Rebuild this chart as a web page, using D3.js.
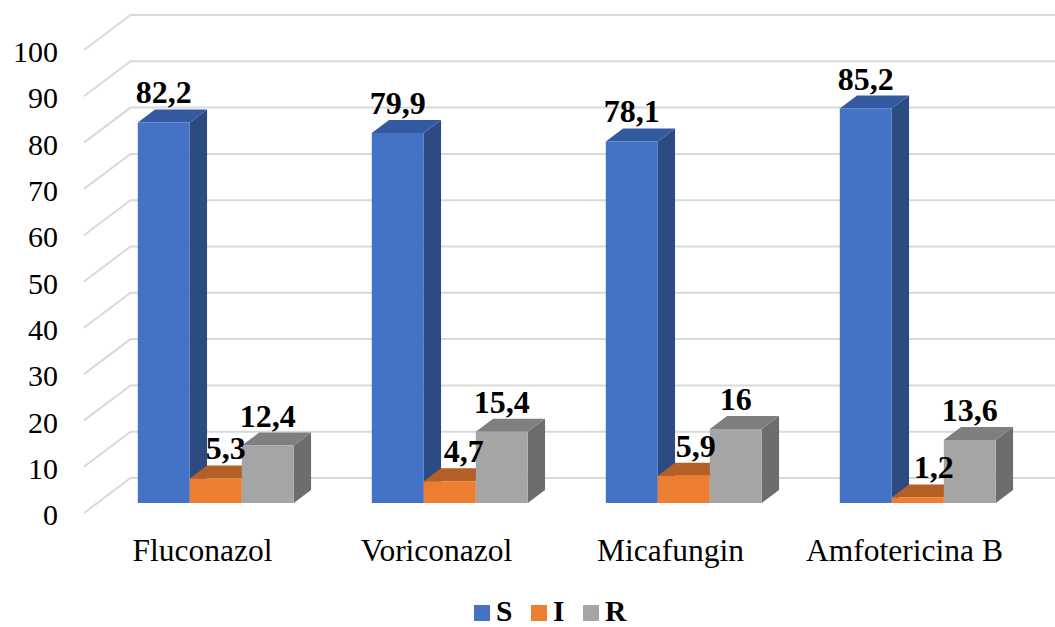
<!DOCTYPE html>
<html>
<head>
<meta charset="utf-8">
<script src="https://cdn.jsdelivr.net/npm/d3@7"></script>
<style>
  html, body { margin: 0; padding: 0; background: #fff; }
  svg { display: block; font-family: "Liberation Serif", "Times New Roman", serif; }
  svg text { font-family: "Liberation Serif", "Times New Roman", serif; }
</style>
</head>
<body>
<svg id="chart" width="1055" height="627"></svg>
<script>
// ---- data ----
const categories = ["Fluconazol", "Voriconazol", "Micafungin", "Amfotericina B"];
const seriesNames = ["S", "I", "R"];
const valuesS = [82.2, 79.9, 78.1, 85.2];
const valuesI = [5.3, 4.7, 5.9, 1.2];
const valuesR = [12.4, 15.4, 16, 13.6];
const labelsS = ["82,2", "79,9", "78,1", "85,2"];
const labelsI = ["5,3", "4,7", "5,9", "1,2"];
const labelsR = ["12,4", "15,4", "16", "13,6"];
const yTicks = [0, 10, 20, 30, 40, 50, 60, 70, 80, 90, 100];

// ---- layout / style ----
const W = 1055, H = 627;
const DX = 46.5, DY = 35;          // full depth projection of floor / walls
const BAR_Z0 = 0.286, BAR_Z1 = 0.657; // bar front/back depth fraction
const colors = {
  S: { front: "#4472C4", top: "#3359A1", side: "#2C4B80" },
  I: { front: "#ED7D31", top: "#B45F26", side: "#9A5020" },
  R: { front: "#A5A5A5", top: "#7F7F7F", side: "#6D6D6D" }
};
const labelNudge = { S: [0, 0, 0, 0], I: [10, 14, 12, 16], R: [0, 0, 0, 0] };

const seriesValues = { S: valuesS, I: valuesI, R: valuesR };
const seriesLabels = { S: labelsS, I: labelsI, R: labelsR };

const svg = d3.select("#chart");

const x0 = d3.scaleBand().domain(categories).range([85.5, 1021.5])
  .paddingInner(1 / 3).paddingOuter(1 / 6);
const x1 = d3.scaleBand().domain(seriesNames).range([0, x0.bandwidth()]).padding(0);
const y = d3.scaleLinear().domain([0, 100]).range([513, 50]);

const proj = (px, v, z) => [px + z * DX, y(v) - z * DY];

// ---- gridlines (side wall diagonal + back wall horizontal) ----
const grid = svg.append("g");
const line = d3.line();
yTicks.forEach(t => {
  const a = proj(84, t, 0), b = proj(84, t, 1);
  grid.append("path")
    .attr("d", line([a, b, [W + 5, b[1]]]))
    .attr("fill", "none")
    .attr("stroke", "#D9D9D9")
    .attr("stroke-width", 2);
});

// ---- y axis labels ----
const yAxis = d3.axisLeft(y).tickValues(yTicks).tickSize(0).tickPadding(0);
const ga = svg.append("g").attr("transform", "translate(58,2)").call(yAxis);
ga.attr("font-family", null);
ga.select(".domain").remove();
ga.selectAll("text")
  .attr("font-size", 30)
  .attr("fill", "#000");

// ---- bars ----
const bars = svg.append("g");
const labelsG = svg.append("g");
categories.forEach((c, ci) => {
  seriesNames.forEach(s => {
    const v = seriesValues[s][ci];
    const xl = x0(c) + x1(s), xr = xl + x1.bandwidth();
    const col = colors[s];
    const fbl = proj(xl, 0, BAR_Z0), fbr = proj(xr, 0, BAR_Z0);
    const ftl = proj(xl, v, BAR_Z0), ftr = proj(xr, v, BAR_Z0);
    const btl = proj(xl, v, BAR_Z1), btr = proj(xr, v, BAR_Z1);
    const bbr = proj(xr, 0, BAR_Z1);
    bars.append("path").attr("d", line([fbr, ftr, btr, bbr]) + "Z").attr("fill", col.side);
    bars.append("path").attr("d", line([ftl, ftr, btr, btl]) + "Z").attr("fill", col.top);
    bars.append("path").attr("d", line([fbl, fbr, ftr, ftl]) + "Z").attr("fill", col.front);

    labelsG.append("text")
      .attr("x", (ftl[0] + ftr[0]) / 2 + labelNudge[s][ci])
      .attr("y", btl[1] - 6)
      .attr("text-anchor", "middle")
      .attr("font-size", 32)
      .attr("font-weight", "bold")
      .attr("fill", "#000")
      .text(seriesLabels[s][ci]);
  });
});

// ---- category labels ----
svg.append("g").selectAll("text").data(categories).join("text")
  .attr("x", d => x0(d) + x0.bandwidth() / 2)
  .attr("y", 561)
  .attr("text-anchor", "middle")
  .attr("font-size", 31.5)
  .attr("fill", "#000")
  .text(d => d);

// ---- legend ----
const legendX = [474, 531, 583];
const leg = svg.append("g");
seriesNames.forEach((s, i) => {
  leg.append("rect").attr("x", legendX[i]).attr("y", 605).attr("width", 16).attr("height", 16)
    .attr("fill", colors[s].front);
  leg.append("text").attr("x", legendX[i] + 22).attr("y", 620.5)
    .attr("font-size", 29.5).attr("font-weight", "bold").attr("fill", "#000").text(s);
});
</script>
</body>
</html>
